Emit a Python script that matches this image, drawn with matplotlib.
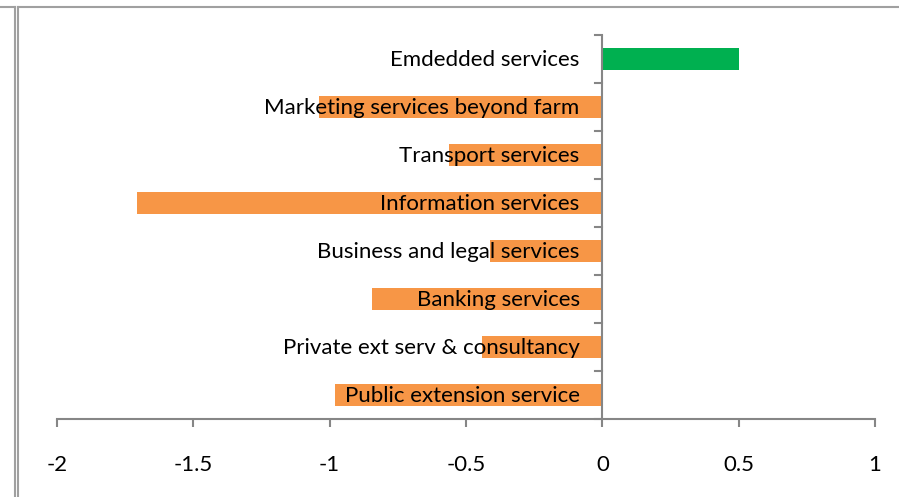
import matplotlib.pyplot as plt
from matplotlib.lines import Line2D

# categories bottom -> top
categories = ['Public extension service', 'Private ext serv & consultancy',
              'Banking services', 'Business and legal services',
              'Information services', 'Transport services',
              'Marketing services beyond farm', 'Emdedded services']
values = [-0.98, -0.44, -0.844, -0.411, -1.705, -0.561, -1.038, 0.5]
colors = ['#00B050' if v > 0 else '#F79646' for v in values]
xticks = [-2, -1.5, -1, -0.5, 0, 0.5, 1]
xlabels = ['-2', '-1.5', '-1', '-0.5', '0', '0.5', '1']

plt.rcParams['font.family'] = ['Lato', 'DejaVu Sans']

fig = plt.figure(figsize=(8.99, 4.97), dpi=100)
ax = fig.add_axes([57 / 899, 1 - 419 / 497, (875 - 57) / 899, (419 - 35) / 497])

ypos = list(range(len(categories)))
ax.barh(ypos, values, height=0.44, color=colors, zorder=2)

ax.set_xlim(-2, 1)
ax.set_ylim(-0.5, len(categories) - 0.5)

# labels drawn next to the zero line, over the bars
for y, name in zip(ypos, categories):
    ax.text(-0.083, y - 0.03, name, ha='right', va='center', fontsize=16, color='black', zorder=3)

for s in ['top', 'right', 'left']:
    ax.spines[s].set_visible(False)
ax.spines['bottom'].set_color('#868686')
ax.spines['bottom'].set_linewidth(1.5)

ax.set_xticks(xticks)
ax.set_xticklabels(xlabels, fontsize=16)
ax.tick_params(axis='x', direction='out', length=6, width=1.5, color='#868686', pad=20)

ax.set_yticks([])
# vertical axis at zero with category separators
ax.axvline(0, color='#868686', lw=1.5, zorder=4)
for b in range(len(categories) + 1):
    ax.plot([-0.028, 0], [b - 0.5, b - 0.5], color='#868686', lw=1.5, clip_on=False, zorder=4)

# frame lines like the spreadsheet border
fw, fh = 899, 497
fig.add_artist(Line2D([14.5 / fw, 14.5 / fw], [0, 1 - 7 / fh], color='#A0A0A0', lw=1.5))
fig.add_artist(Line2D([18 / fw, 18 / fw], [0, 1 - 7 / fh], color='#A0A0A0', lw=1.5))
fig.add_artist(Line2D([0, 14.5 / fw], [1 - 7 / fh, 1 - 7 / fh], color='#A0A0A0', lw=1.5))
fig.add_artist(Line2D([18 / fw, 1], [1 - 7 / fh, 1 - 7 / fh], color='#A0A0A0', lw=1.5))

fig.savefig('out.png', dpi=100)
